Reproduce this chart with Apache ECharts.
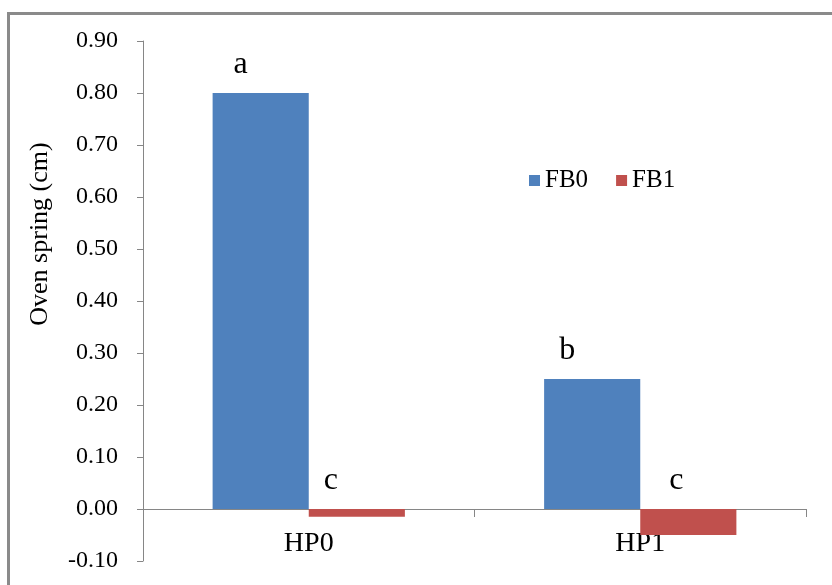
<!DOCTYPE html>
<html>
<head>
<meta charset="utf-8">
<script src="https://cdn.jsdelivr.net/npm/echarts@6/dist/echarts.min.js"></script>
<style>
  html, body { margin: 0; padding: 0; background: #fff; }
  #chart { position: absolute; left: 0; top: 0; width: 832px; height: 585px; }
  #frame { position: absolute; left: 7px; top: 12px; width: 900px; height: 700px;
           border-left: 3px solid #8a8a8a; border-top: 3px solid #8a8a8a; pointer-events: none; }
</style>
</head>
<body>
<div id="chart"></div>
<div id="frame"></div>
<script>
const categories = ['HP0', 'HP1'];
const seriesNames = ['FB0', 'FB1'];
const fb0Values = [0.80, 0.25];
const fb1Values = [-0.015, -0.05];
const fb0Letters = ['a', 'b'];
const fb1Letters = ['c', 'c'];
const yTicks = { min: -0.10, max: 0.90, step: 0.10 };

const serif = '"Liberation Serif", "Times New Roman", serif';
const fb0Shift = [-20, -25];
const fb1Shift = [-26, -12];

function build(values, letters, shifts) {
  return values.map((v, i) => ({
    value: v,
    label: { formatter: letters[i], offset: [shifts[i], 0] }
  }));
}

const chart = echarts.init(document.getElementById('chart'), null, { renderer: 'canvas' });
chart.setOption({
  animation: false,
  backgroundColor: '#fff',
  grid: { left: 143, right: 26, top: 41, bottom: 24, containLabel: false, outerBoundsMode: 'none' },
  legend: {
    data: seriesNames,
    left: 524, top: 163,
    icon: 'rect', itemWidth: 11, itemHeight: 11, itemGap: 28,
    textStyle: { fontFamily: serif, fontSize: 25, color: '#000' }
  },
  xAxis: {
    type: 'category',
    data: categories,
    axisLine: { onZero: true, lineStyle: { color: '#868686', width: 1 } },
    axisTick: { show: true, length: 8, lineStyle: { color: '#868686' } },
    axisLabel: { fontFamily: serif, fontSize: 28, color: '#000', margin: -31 }
  },
  yAxis: {
    type: 'value',
    min: yTicks.min, max: yTicks.max, interval: yTicks.step,
    name: 'Oven spring (cm)',
    nameLocation: 'middle',
    nameGap: 90,
    nameRotate: 90,
    nameTextStyle: { fontFamily: serif, fontSize: 26, color: '#000', padding: [0, 0, 0, 134] },
    splitLine: { show: false },
    axisLine: { show: true, lineStyle: { color: '#868686', width: 1 } },
    axisTick: { show: true, length: 6, lineStyle: { color: '#868686' } },
    axisLabel: {
      fontFamily: serif, fontSize: 24, color: '#000', margin: 25,
      formatter: v => v.toFixed(2)
    }
  },
  series: [
    {
      name: seriesNames[0], type: 'bar',
      data: build(fb0Values, fb0Letters, fb0Shift),
      itemStyle: { color: '#4F81BD' },
      barGap: '0%', barCategoryGap: '42%',
      label: { show: true, position: 'top', distance: 12, fontFamily: serif, fontSize: 32, color: '#000' }
    },
    {
      name: seriesNames[1], type: 'bar',
      data: build(fb1Values, fb1Letters, fb1Shift),
      itemStyle: { color: '#C0504D' },
      barGap: '0%', barCategoryGap: '42%',
      label: { show: true, position: 'top', distance: 12, fontFamily: serif, fontSize: 32, color: '#000' }
    }
  ]
});
</script>
</body>
</html>
